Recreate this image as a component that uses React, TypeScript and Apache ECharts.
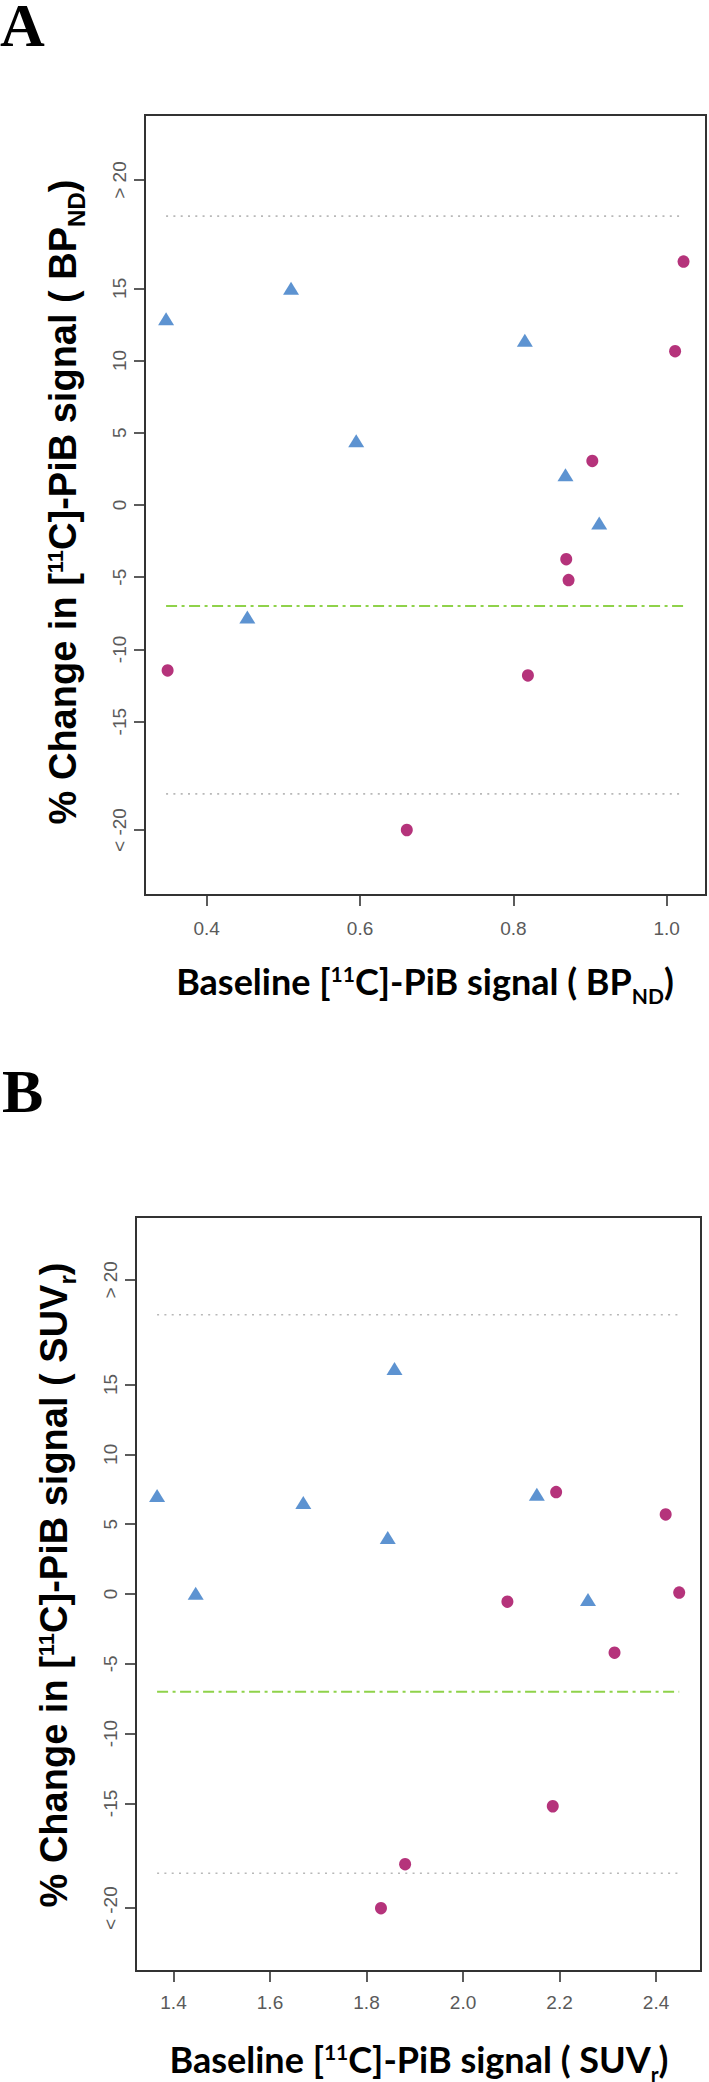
import React, { useEffect, useRef } from "react";
import * as echarts from "echarts";

// ---------- Data ----------
// Panel A: baseline BPnd vs % change
const A_TRI_X = [0.347, 0.51, 0.595, 0.815, 0.868, 0.912, 0.453];
const A_TRI_Y = [12.9, 15.0, 4.45, 11.4, 2.1, -1.25, -7.75];
const A_CIR_X = [1.022, 1.011, 0.903, 0.869, 0.872, 0.349, 0.819, 0.661];
const A_CIR_Y = [16.85, 10.65, 3.05, -3.75, -5.2, -11.45, -11.8, -22.5];

// Panel B: baseline SUVr vs % change
const B_TRI_X = [1.366, 1.669, 1.858, 1.844, 2.153, 1.446, 2.259];
const B_TRI_Y = [7.05, 6.55, 16.15, 4.05, 7.15, 0.05, -0.4];
const B_CIR_X = [2.193, 2.42, 2.092, 2.448, 2.314, 2.186, 1.88, 1.83];
const B_CIR_Y = [7.3, 5.7, -0.55, 0.1, -4.2, -15.2, -19.35, -22.5];

// Axes
const Y_TICKS = [-22.5, -15, -10, -5, 0, 5, 10, 15, 22.5];
const Y_TICK_LABELS = ["< -20", "-15", "-10", "-5", "0", "5", "10", "15", "> 20"];
const Y_RANGE = [-27, 27];
const A_X_TICKS = [0.4, 0.6, 0.8, 1.0];
const A_X_TICK_LABELS = ["0.4", "0.6", "0.8", "1.0"];
const A_X_RANGE = [0.3195, 1.0513];
const B_X_TICKS = [1.4, 1.6, 1.8, 2.0, 2.2, 2.4];
const B_X_TICK_LABELS = ["1.4", "1.6", "1.8", "2.0", "2.2", "2.4"];
const B_X_RANGE = [1.3223, 2.4932];

// Reference lines
const LIMITS = [20, -20];
const THRESHOLD = -7;

// Titles
const PANEL_LABELS = ["A", "B"];
const Y_TITLES = [
  "{n|% Change in [}{sup|11}{n|C]-PiB signal ( BP}{sub|ND}{n|)}",
  "{n|% Change in [}{sup|11}{n|C]-PiB signal ( SUV}{sub|r}{n|)}",
];
const X_TITLES = [
  "{n|Baseline [}{sup|11}{n|C]-PiB signal ( BP}{sub|ND}{n|)}",
  "{n|Baseline [}{sup|11}{n|C]-PiB signal ( SUV}{sub|r}{n|)}",
];

// ---------- Styles ----------
const BLUE = "#3478c6";
const MAGENTA = "#a3005a";
const GREEN = "#8fd24a";
const DOT_GREY = "#b8b8b8";
const LABEL_GREY = "#5a5a5a";
const BOX = "#333333";

const zip = (xs: number[], ys: number[]) => xs.map((x, i) => [x, ys[i]]);
const pickLabel = (ticks: number[], labels: string[]) => (v: number) => {
  const i = ticks.findIndex((t) => Math.abs(t - v) < 1e-6);
  return i >= 0 ? labels[i] : "";
};

function yRich() {
  const base = { fontFamily: "Liberation Sans", fontWeight: "bold", fill: "#000" };
  return {
    n: { ...base, fontSize: 38, lineHeight: 40 },
    sup: { ...base, fontSize: 22, padding: [0, 0, 14, 0] },
    sub: { ...base, fontSize: 24, padding: [27, 0, 0, 0] },
  };
}
function xRich() {
  const base = { fontFamily: "Lato", fontWeight: "bold", fill: "#000" };
  return {
    n: { ...base, fontSize: 36, lineHeight: 38 },
    sup: { ...base, fontSize: 21, padding: [0, 0, 16, 0] },
    sub: { ...base, fontSize: 21, padding: [29, 0, 0, 0] },
  };
}

function xAxis(gridIndex: number, range: number[], ticks: number[], labels: string[], margin: number) {
  return {
    type: "value",
    gridIndex,
    position: "bottom",
    min: range[0],
    max: range[1],
    axisLine: { show: false, onZero: false },
    splitLine: { show: false },
    axisTick: {
      show: true,
      inside: false,
      length: 11,
      customValues: ticks,
      lineStyle: { color: BOX, width: 1.6 },
    },
    axisLabel: {
      show: true,
      customValues: ticks,
      formatter: pickLabel(ticks, labels),
      margin,
      color: LABEL_GREY,
      fontFamily: "Liberation Sans",
      fontSize: 19,
    },
  };
}

function yAxis(gridIndex: number) {
  return {
    type: "value",
    gridIndex,
    position: "left",
    min: Y_RANGE[0],
    max: Y_RANGE[1],
    axisLine: { show: false, onZero: false },
    splitLine: { show: false },
    axisTick: {
      show: true,
      inside: false,
      length: 11,
      customValues: Y_TICKS,
      lineStyle: { color: BOX, width: 1.6 },
    },
    axisLabel: {
      show: true,
      customValues: Y_TICKS,
      formatter: pickLabel(Y_TICKS, Y_TICK_LABELS),
      rotate: 90,
      margin: 16,
      color: LABEL_GREY,
      fontFamily: "Liberation Sans",
      fontSize: 19,
    },
  };
}

function panelSeries(idx: number, triX: number[], triY: number[], cirX: number[], cirY: number[]) {
  const xs = [...triX, ...cirX];
  const xmin = Math.min(...xs);
  const xmax = Math.max(...xs);
  const lineBase = {
    type: "line",
    xAxisIndex: idx,
    yAxisIndex: idx,
    symbol: "none",
    silent: true,
    z: 1,
  };
  return [
    ...LIMITS.map((v) => ({
      ...lineBase,
      data: [
        [xmin, v],
        [xmax, v],
      ],
      lineStyle: { color: DOT_GREY, width: 1.6, type: [2, 5.3] },
    })),
    {
      ...lineBase,
      data: [
        [xmin, THRESHOLD],
        [xmax, THRESHOLD],
      ],
      lineStyle: { color: GREEN, width: 2, type: [11, 4.5, 3, 4.5] },
    },
    {
      type: "scatter",
      xAxisIndex: idx,
      yAxisIndex: idx,
      data: zip(triX, triY),
      symbol: "triangle",
      symbolSize: [16, 13],
      itemStyle: { color: BLUE },
      z: 3,
    },
    {
      type: "scatter",
      xAxisIndex: idx,
      yAxisIndex: idx,
      data: zip(cirX, cirY),
      symbol: "circle",
      symbolSize: [12, 12.5],
      itemStyle: { color: MAGENTA },
      z: 3,
    },
  ];
}

export default function App() {
  const ref = useRef<HTMLDivElement>(null);

  useEffect(() => {
    if (!ref.current) return;
    const chart = echarts.init(ref.current, undefined, { renderer: "svg" });

    const gridStyle = {
      show: true,
      borderColor: BOX,
      borderWidth: 2,
      backgroundColor: "transparent",
      containLabel: false,
    };

    const letter = (text: string, x: number, y: number) => ({
      type: "text",
      x,
      y,
      style: {
        text,
        fontFamily: "Liberation Serif",
        fontWeight: "bold",
        fontSize: 62,
        lineHeight: 46,
        fill: "#000",
        align: "left",
        verticalAlign: "middle",
      },
    });

    const yTitle = (text: string, x: number, y: number) => ({
      type: "text",
      x,
      y,
      rotation: Math.PI / 2,
      style: {
        text,
        rich: yRich(),
        fontFamily: "Liberation Sans",
        fontWeight: "bold",
        fontSize: 38,
        fill: "#000",
        align: "center",
        verticalAlign: "middle",
      },
    });

    const xTitle = (text: string, x: number, y: number) => ({
      type: "text",
      x,
      y,
      style: {
        text,
        rich: xRich(),
        fontFamily: "Lato",
        fontWeight: "bold",
        fontSize: 36,
        fill: "#000",
        align: "center",
        verticalAlign: "middle",
      },
    });

    chart.setOption({
      animation: false,
      backgroundColor: "#ffffff",
      grid: [
        { ...gridStyle, left: 145, top: 115, width: 561, height: 780 },
        { ...gridStyle, left: 136, top: 1217, width: 565, height: 754 },
      ],
      xAxis: [
        xAxis(0, A_X_RANGE, A_X_TICKS, A_X_TICK_LABELS, 24),
        xAxis(1, B_X_RANGE, B_X_TICKS, B_X_TICK_LABELS, 22),
      ],
      yAxis: [yAxis(0), yAxis(1)],
      series: [
        ...panelSeries(0, A_TRI_X, A_TRI_Y, A_CIR_X, A_CIR_Y),
        ...panelSeries(1, B_TRI_X, B_TRI_Y, B_CIR_X, B_CIR_Y),
      ],
      graphic: [
        letter(PANEL_LABELS[0], 0, 25),
        letter(PANEL_LABELS[1], 2, 1091),
        yTitle(Y_TITLES[0], 62.5, 502),
        yTitle(Y_TITLES[1], 53.5, 1585),
        xTitle(X_TITLES[0], 425, 981),
        xTitle(X_TITLES[1], 419, 2059),
      ],
    });

    return () => chart.dispose();
  }, []);

  return (
    <div
      ref={ref}
      style={{ position: "absolute", left: 0, top: 0, width: 709, height: 2082 }}
    />
  );
}
